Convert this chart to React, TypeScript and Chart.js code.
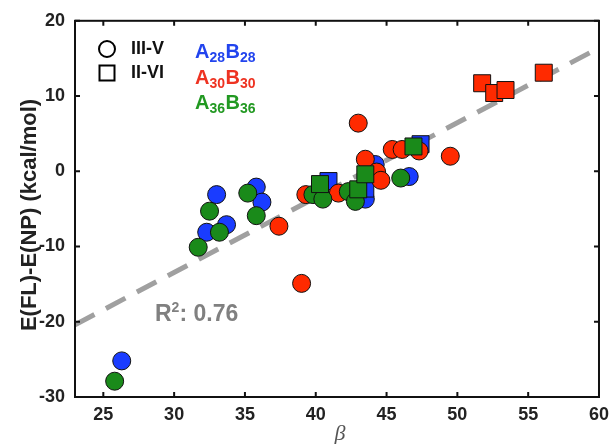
import React, { useEffect, useRef } from 'react';
import { Chart, registerables } from 'chart.js';

Chart.register(...registerables);

// Axis ranges and tick labels
const X_MIN = 23;
const X_MAX = 60;
const Y_MIN = -30;
const Y_MAX = 20;
const xTickValues = [25, 30, 35, 40, 45, 50, 55, 60];
const yTickValues = [-30, -20, -10, 0, 10, 20];

// A28B28 (blue)
const blueCircleX = [26.3, 33.0, 32.3, 33.7, 35.8, 36.2, 46.6, 44.2, 43.5];
const blueCircleY = [-25.2, -3.1, -8.1, -7.1, -2.1, -4.1, -0.7, 0.9, -3.7];
const blueSquareX = [40.9, 43.5, 47.4];
const blueSquareY = [-1.3, -2.3, 3.6];

// A30B30 (red)
const redCircleX = [39.0, 37.4, 43.0, 39.3, 41.6, 43.5, 44.3, 44.6, 45.4, 46.1, 47.3, 49.5];
const redCircleY = [-14.9, -7.3, 6.4, -3.1, -2.9, 1.6, -0.1, -1.2, 2.9, 2.9, 2.7, 2.0];
const redSquareX = [51.75, 52.6, 53.4, 56.1];
const redSquareY = [11.7, 10.4, 10.8, 13.1];

// A36B36 (green)
const greenCircleX = [25.8, 32.5, 31.7, 33.2, 35.2, 35.8, 39.8, 40.5, 42.3, 42.8, 46.0];
const greenCircleY = [-27.9, -5.3, -10.1, -8.1, -2.9, -5.9, -3.1, -3.7, -2.7, -4.0, -0.9];
const greenSquareX = [40.3, 43.0, 43.5, 46.9];
const greenSquareY = [-1.7, -2.4, -0.4, 3.3];

// Linear fit
const fitX = [23, 60];
const fitY = [-20.4, 16.4];

const BLUE = '#1a3cff';
const RED = '#ff2a00';
const GREEN = '#1a8a1a';

const FONT = '"Liberation Sans", Arial, sans-serif';

const pts = (xs: number[], ys: number[]) => xs.map((x, i) => ({ x, y: ys[i] }));

const decorPlugin = {
  id: 'decor',
  afterDatasetsDraw(chart: any) {
    const { ctx, chartArea, scales } = chart;
    const { left, right, top, bottom } = chartArea;
    ctx.save();
    // box
    ctx.strokeStyle = '#111';
    ctx.lineWidth = 2;
    ctx.strokeRect(left, top, right - left, bottom - top);
    // inward ticks
    const tl = 5;
    ctx.beginPath();
    xTickValues.forEach((v) => {
      const px = scales.x.getPixelForValue(v);
      ctx.moveTo(px, bottom);
      ctx.lineTo(px, bottom - tl);
      ctx.moveTo(px, top);
      ctx.lineTo(px, top + tl);
    });
    yTickValues.forEach((v) => {
      const py = scales.y.getPixelForValue(v);
      ctx.moveTo(left, py);
      ctx.lineTo(left + tl, py);
      ctx.moveTo(right, py);
      ctx.lineTo(right - tl, py);
    });
    ctx.stroke();

    // Legend: shapes
    ctx.lineWidth = 2;
    ctx.strokeStyle = '#000';
    ctx.beginPath();
    ctx.arc(107, 49, 8, 0, Math.PI * 2);
    ctx.stroke();
    ctx.strokeRect(99.5, 65.5, 15, 15);
    ctx.fillStyle = '#111';
    ctx.font = `bold 18px ${FONT}`;
    ctx.textBaseline = 'middle';
    ctx.textAlign = 'left';
    ctx.fillText('III-V', 131, 49);
    ctx.fillText('II-VI', 131, 73);

    // Legend: compositions with subscripts
    const drawComp = (x: number, base: number, sub: string, color: string) => {
      ctx.fillStyle = color;
      ctx.textBaseline = 'alphabetic';
      let cx = x;
      ['A', 'B'].forEach((letter) => {
        ctx.font = `bold 20px ${FONT}`;
        ctx.fillText(letter, cx, base);
        cx += ctx.measureText(letter).width;
        ctx.font = `bold 14px ${FONT}`;
        ctx.fillText(sub, cx, base + 4);
        cx += ctx.measureText(sub).width + 0.5;
      });
    };
    drawComp(195, 58, '28', '#2244ee');
    drawComp(195, 84, '30', '#ee3322');
    drawComp(195, 109, '36', '#229922');

    // R^2 annotation
    ctx.fillStyle = '#808080';
    ctx.textBaseline = 'alphabetic';
    ctx.font = `bold 23px ${FONT}`;
    let rx = 155;
    ctx.fillText('R', rx, 321);
    rx += ctx.measureText('R').width;
    ctx.font = `bold 14px ${FONT}`;
    ctx.fillText('2', rx, 312);
    rx += ctx.measureText('2').width;
    ctx.font = `bold 23px ${FONT}`;
    ctx.fillText(': 0.76', rx, 321);

    // Axis titles
    ctx.fillStyle = '#555';
    ctx.font = 'italic 22px "Liberation Serif", "Times New Roman", serif';
    ctx.textAlign = 'center';
    ctx.textBaseline = 'middle';
    ctx.fillText('β', 340, 434);

    ctx.save();
    ctx.translate(30, 215);
    ctx.rotate(-Math.PI / 2);
    ctx.fillStyle = '#222';
    ctx.font = `bold 22px ${FONT}`;
    ctx.fillText('E(FL)-E(NP) (kcal/mol)', 0, 0);
    ctx.restore();

    ctx.restore();
  },
};

export default function App() {
  const canvasRef = useRef<HTMLCanvasElement | null>(null);

  useEffect(() => {
    if (!canvasRef.current) return;
    const circle = (label: string, xs: number[], ys: number[], color: string, order: number) => ({
      type: 'scatter' as const,
      label,
      data: pts(xs, ys),
      backgroundColor: color,
      borderColor: '#111',
      borderWidth: 1,
      pointRadius: 9,
      pointStyle: 'circle',
      order,
    });
    const square = (label: string, xs: number[], ys: number[], color: string, order: number) => ({
      type: 'scatter' as const,
      label,
      data: pts(xs, ys),
      backgroundColor: color,
      borderColor: '#111',
      borderWidth: 1,
      pointRadius: 12,
      pointStyle: 'rect',
      order,
    });

    const chart = new Chart(canvasRef.current, {
      type: 'scatter',
      data: {
        datasets: [
          {
            type: 'line',
            label: 'fit',
            data: pts(fitX, fitY),
            borderColor: '#a0a0a0',
            borderWidth: 5,
            borderDash: [22, 13],
            pointRadius: 0,
            fill: false,
            order: 10,
          } as any,
          circle('A28B28 III-V', blueCircleX, blueCircleY, BLUE, 6),
          square('A28B28 II-VI', blueSquareX, blueSquareY, BLUE, 5),
          circle('A30B30 III-V', redCircleX, redCircleY, RED, 4),
          square('A30B30 II-VI', redSquareX, redSquareY, RED, 3),
          circle('A36B36 III-V', greenCircleX, greenCircleY, GREEN, 2),
          square('A36B36 II-VI', greenSquareX, greenSquareY, GREEN, 1),
        ],
      },
      options: {
        responsive: false,
        animation: false,
        layout: { padding: { top: 20, right: 13, left: 0, bottom: 0 } },
        plugins: {
          legend: { display: false },
          tooltip: { enabled: false },
        },
        scales: {
          x: {
            type: 'linear',
            min: X_MIN,
            max: X_MAX,
            grid: { display: false, drawTicks: false },
            border: { display: false },
            afterBuildTicks: (scale: any) => {
              scale.ticks = xTickValues.map((v) => ({ value: v }));
            },
            afterFit: (scale: any) => {
              scale.height = 47;
            },
            ticks: {
              padding: 7,
              color: '#222',
              font: { family: FONT, size: 18, weight: 'bold' },
            },
          },
          y: {
            type: 'linear',
            min: Y_MIN,
            max: Y_MAX,
            grid: { display: false, drawTicks: false },
            border: { display: false },
            afterBuildTicks: (scale: any) => {
              scale.ticks = yTickValues.map((v) => ({ value: v }));
            },
            afterFit: (scale: any) => {
              scale.width = 75;
            },
            ticks: {
              padding: 10,
              color: '#222',
              font: { family: FONT, size: 18, weight: 'bold' },
            },
          },
        },
      },
      plugins: [decorPlugin],
    } as any);
    return () => chart.destroy();
  }, []);

  return (
    <div style={{ position: 'fixed', left: 0, top: 0, width: 616, height: 444, background: '#fff' }}>
      <canvas ref={canvasRef} width={616} height={444} />
    </div>
  );
}
